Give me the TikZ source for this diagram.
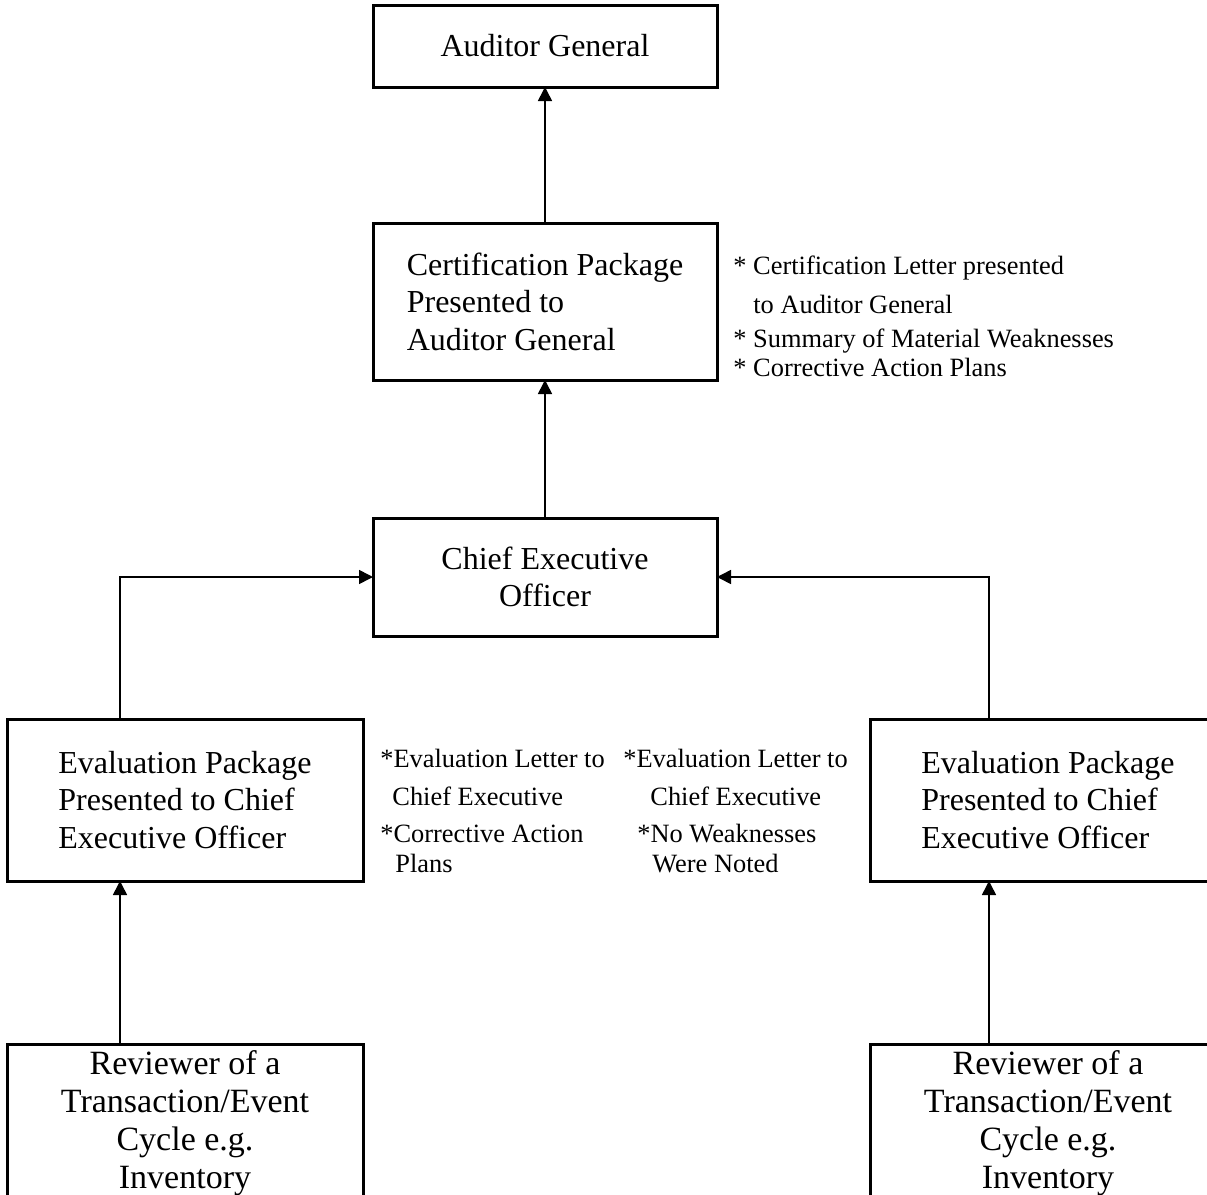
\documentclass[tikz,border=0pt]{standalone}
\usepackage{fontspec}
\setmainfont{Liberation Serif}
\usetikzlibrary{arrows.meta,positioning}
\tikzset{>={Triangle[length=7pt,width=7pt]}}
\tikzstyle{office} = [rectangle, minimum width=172pt, text centered, draw=black, line width=1.5pt, outer sep=0pt, font=\fontsize{16}{18.75}\selectfont]
\tikzstyle{package} = [rectangle, minimum width=178pt, minimum height=81pt, align=left, draw=black, line width=1.5pt, outer sep=0pt, font=\fontsize{16}{18.75}\selectfont]
\tikzstyle{reviewer} = [package, minimum height=78pt, align=center, font=\fontsize{17}{19}\selectfont]
\tikzstyle{notes} = [inner sep=0pt, align=left, anchor=north west, font=\fontsize{13.2}{15}\selectfont]
\tikzstyle{arrow} = [line width=0.8pt,->]

\begin{document}
\begin{tikzpicture}
\useasboundingbox (0,0) rectangle (603.5pt,-597.5pt);
\clip (0,0) rectangle (603.5pt,-597.5pt);
\node (ag) [office, minimum height=41pt] at (272.5pt,-23pt) {Auditor General};
\node (cert) [office, minimum height=78.5pt, align=left, below=68pt of ag] {Certification Package\\Presented to\\Auditor General};
\node (ceo) [office, minimum height=59pt, align=center, below=69pt of cert] {Chief Executive\\Officer};
\node (leval) [package, below=41.5pt of ceo, xshift=-180pt] {Evaluation Package\\Presented to Chief\\Executive Officer};
\node (reval) [package, below=41.5pt of ceo, xshift=251.5pt] {Evaluation Package\\Presented to Chief\\Executive Officer};
\node (lrev) [reviewer, below=81.5pt of leval] {Reviewer of a\\Transaction/Event\\Cycle e.g.\\Inventory};
\node (rrev) [reviewer, below=81.5pt of reval] {Reviewer of a\\Transaction/Event\\Cycle e.g.\\Inventory};
% notes beside the packages
\node (certnotes) [notes] at ([xshift=8pt,yshift=-16.5pt]cert.north east) {{*}~Certification Letter presented\\[4.5pt]\hspace*{10pt}to Auditor General\\[2pt]{*}~Summary of Material Weaknesses\\[-0.5pt]{*}~Corrective Action Plans};
\node (lnotes) [notes] at ([xshift=8.5pt,yshift=-15pt]leval.north east) {{*}Evaluation Letter to\\[4pt]\hspace*{6pt}Chief Executive\\[3.5pt]{*}Corrective Action\\\hspace*{7.5pt}Plans};
\node (rnotes) [notes] at ([xshift=130pt,yshift=-15pt]leval.north east) {{*}Evaluation Letter to\\[4pt]\hspace*{13.5pt}Chief Executive\\[3.5pt]\hspace*{7pt}{*}No Weaknesses\\\hspace*{14.5pt}Were Noted};
\draw [arrow] (cert) -- (ag);
\draw [arrow] (ceo) -- (cert);
\draw [arrow] ([xshift=-32.5pt]leval.north) |- (ceo.west);
\draw [arrow] ([xshift=-29.5pt]reval.north) |- (ceo.east);
\draw [arrow] ([xshift=-32.5pt]lrev.north) -- ([xshift=-32.5pt]leval.south);
\draw [arrow] ([xshift=-29.5pt]rrev.north) -- ([xshift=-29.5pt]reval.south);
\end{tikzpicture}
\end{document}
